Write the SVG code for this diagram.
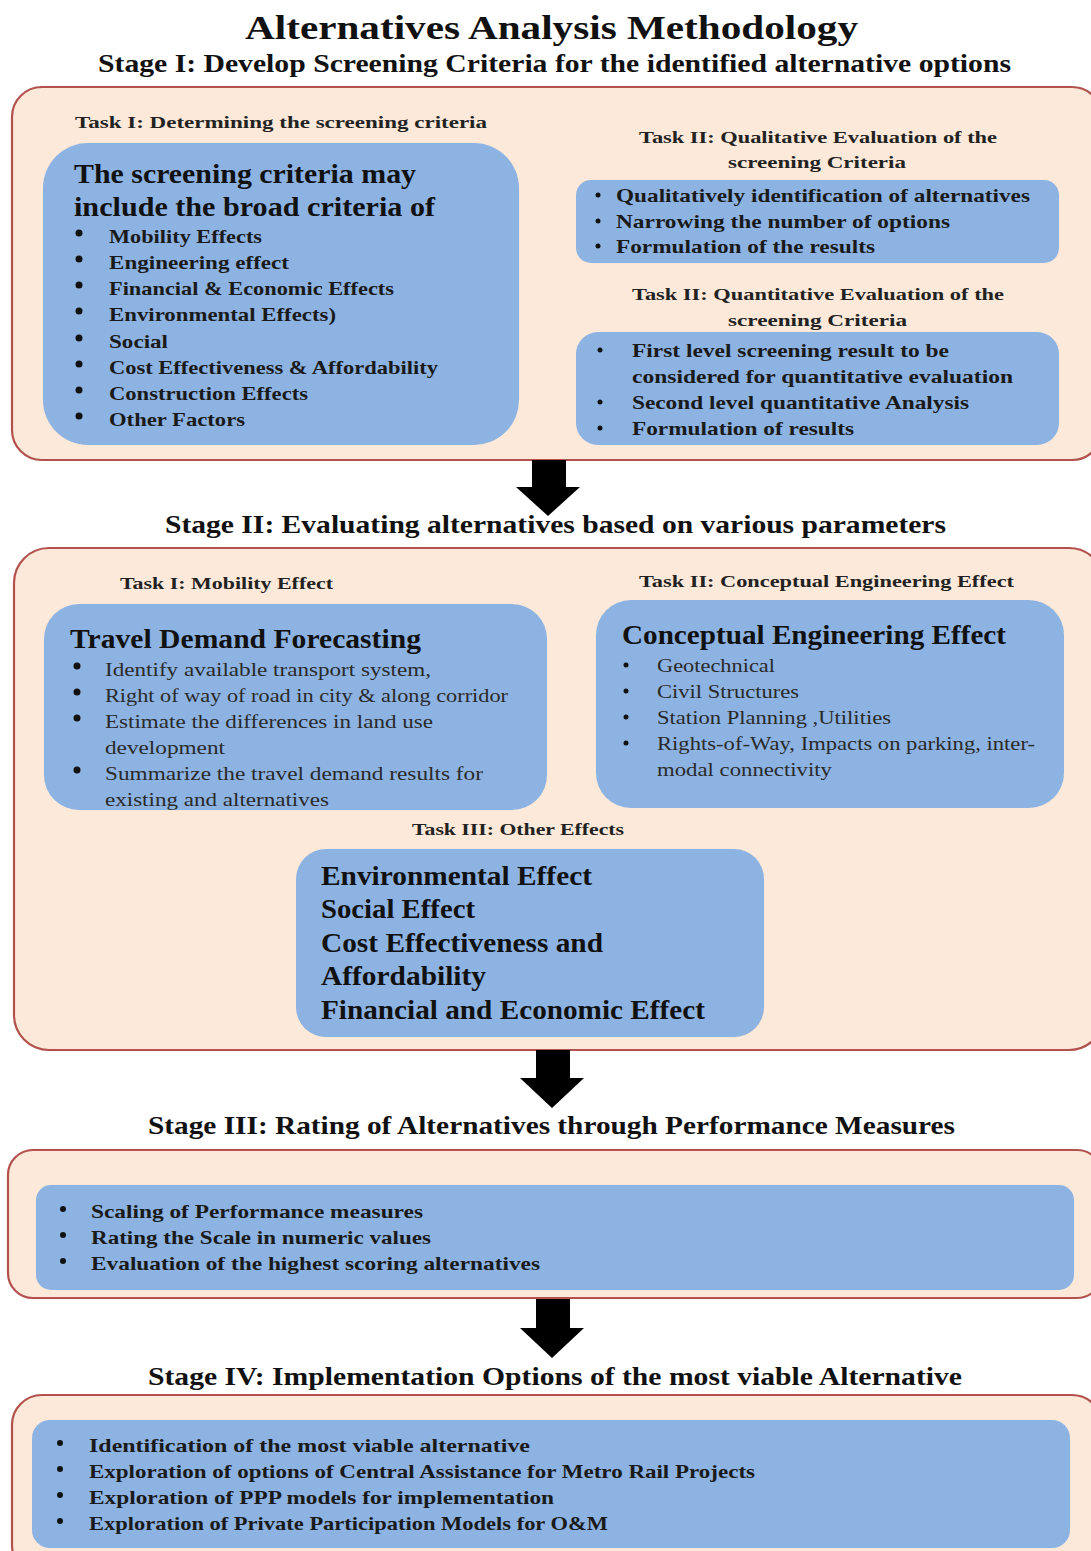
<svg xmlns="http://www.w3.org/2000/svg" width="1091" height="1551" viewBox="0 0 1091 1551">
<style>
.bg{fill:#ffffff}
.stage{fill:#FDE9D9;stroke:#B3514D;stroke-width:2.2}
.blue{fill:#8DB3E2}
text{font-family:"Liberation Serif","DejaVu Serif",serif;fill:#111;font-weight:bold}
.title{font-size:34px}
.sh{font-size:25px}
.task{font-size:17px;fill:#222}
.hd{font-size:27px}
.b{font-size:19px;fill:#1a1a1a}
.r{font-size:19px;font-weight:normal;fill:#2a2a2a}
.arrow{fill:#000}
.dot{fill:#111}
</style>
<rect class="bg" x="0" y="0" width="1091" height="1551"/>

<text class="title" x="245" y="39" textLength="613" lengthAdjust="spacingAndGlyphs">Alternatives Analysis Methodology</text>

<g id="stage1">
<text class="sh" x="98" y="72" textLength="913" lengthAdjust="spacingAndGlyphs">Stage I: Develop Screening Criteria for the identified alternative options</text>
<rect class="stage" x="12" y="87" width="1090" height="373" rx="30"/>
</g>

<g id="task1-criteria">
<text class="task" x="75" y="128" textLength="412" lengthAdjust="spacingAndGlyphs">Task I: Determining the screening criteria</text>
<rect class="blue" x="43" y="143" width="476" height="302" rx="45"/>
<text class="hd" x="74" y="183" textLength="342" lengthAdjust="spacingAndGlyphs">The screening criteria may</text>
<text class="hd" x="74" y="216" textLength="361" lengthAdjust="spacingAndGlyphs">include the broad criteria of</text>
<g class="dot">
<circle cx="79" cy="233" r="3.5"/><circle cx="79" cy="259" r="3.5"/><circle cx="79" cy="285" r="3.5"/><circle cx="79" cy="311" r="3.5"/>
<circle cx="79" cy="338" r="3.5"/><circle cx="79" cy="364" r="3.5"/><circle cx="79" cy="390" r="3.5"/><circle cx="79" cy="416" r="3.5"/>
</g>
<text class="b" x="109" y="243" textLength="153" lengthAdjust="spacingAndGlyphs">Mobility Effects</text>
<text class="b" x="109" y="269" textLength="180" lengthAdjust="spacingAndGlyphs">Engineering effect</text>
<text class="b" x="109" y="295" textLength="285" lengthAdjust="spacingAndGlyphs">Financial &amp; Economic Effects</text>
<text class="b" x="109" y="321" textLength="227" lengthAdjust="spacingAndGlyphs">Environmental Effects)</text>
<text class="b" x="109" y="348" textLength="59" lengthAdjust="spacingAndGlyphs">Social</text>
<text class="b" x="109" y="374" textLength="329" lengthAdjust="spacingAndGlyphs">Cost Effectiveness &amp; Affordability</text>
<text class="b" x="109" y="400" textLength="199" lengthAdjust="spacingAndGlyphs">Construction Effects</text>
<text class="b" x="109" y="426" textLength="136" lengthAdjust="spacingAndGlyphs">Other Factors</text>
</g>

<g id="task2-qualitative">
<text class="task" x="639" y="143" textLength="358" lengthAdjust="spacingAndGlyphs">Task II: Qualitative Evaluation of the</text>
<text class="task" x="728" y="168" textLength="178" lengthAdjust="spacingAndGlyphs">screening Criteria</text>
<rect class="blue" x="576" y="180" width="483" height="83" rx="15"/>
<g class="dot"><circle cx="598" cy="195" r="2.5"/><circle cx="598" cy="221" r="2.5"/><circle cx="598" cy="246" r="2.5"/></g>
<text class="b" x="616" y="202" textLength="414" lengthAdjust="spacingAndGlyphs">Qualitatively identification of alternatives</text>
<text class="b" x="616" y="228" textLength="334" lengthAdjust="spacingAndGlyphs">Narrowing the number of options</text>
<text class="b" x="616" y="253" textLength="259" lengthAdjust="spacingAndGlyphs">Formulation of the results</text>
</g>

<g id="task2-quantitative">
<text class="task" x="632" y="300" textLength="372" lengthAdjust="spacingAndGlyphs">Task II: Quantitative Evaluation of the</text>
<text class="task" x="728" y="326" textLength="179" lengthAdjust="spacingAndGlyphs">screening Criteria</text>
<rect class="blue" x="576" y="332" width="483" height="113" rx="22"/>
<g class="dot"><circle cx="600" cy="350" r="2.5"/><circle cx="600" cy="402" r="2.5"/><circle cx="600" cy="428" r="2.5"/></g>
<text class="b" x="632" y="357" textLength="317" lengthAdjust="spacingAndGlyphs">First level screening result to be</text>
<text class="b" x="632" y="383" textLength="381" lengthAdjust="spacingAndGlyphs">considered for quantitative evaluation</text>
<text class="b" x="632" y="409" textLength="337" lengthAdjust="spacingAndGlyphs">Second level quantitative Analysis</text>
<text class="b" x="632" y="435" textLength="222" lengthAdjust="spacingAndGlyphs">Formulation of results</text>
</g>

<g id="stage2">
<text class="sh" x="165" y="533" textLength="781" lengthAdjust="spacingAndGlyphs">Stage II: Evaluating alternatives based on various parameters</text>
<rect class="stage" x="14" y="548" width="1090" height="502" rx="35"/>
</g>

<g id="task1-mobility">
<text class="task" x="120" y="589" textLength="213" lengthAdjust="spacingAndGlyphs">Task I: Mobility Effect</text>
<rect class="blue" x="44" y="604" width="503" height="206" rx="35"/>
<text class="hd" x="70" y="648" textLength="351" lengthAdjust="spacingAndGlyphs">Travel Demand Forecasting</text>
<g class="dot"><circle cx="77" cy="666" r="3.5"/><circle cx="77" cy="692" r="3.5"/><circle cx="77" cy="718" r="3.5"/><circle cx="77" cy="770" r="3.5"/></g>
<text class="r" x="105" y="676" textLength="326" lengthAdjust="spacingAndGlyphs">Identify available transport system,</text>
<text class="r" x="105" y="702" textLength="403" lengthAdjust="spacingAndGlyphs">Right of way of road in city &amp; along corridor</text>
<text class="r" x="105" y="728" textLength="328" lengthAdjust="spacingAndGlyphs">Estimate the differences in land use</text>
<text class="r" x="105" y="754" textLength="120" lengthAdjust="spacingAndGlyphs">development</text>
<text class="r" x="105" y="780" textLength="378" lengthAdjust="spacingAndGlyphs">Summarize the travel demand results for</text>
<text class="r" x="105" y="806" textLength="224" lengthAdjust="spacingAndGlyphs">existing and alternatives</text>
</g>

<g id="task2-engineering">
<text class="task" x="639" y="587" textLength="375" lengthAdjust="spacingAndGlyphs">Task II: Conceptual Engineering Effect</text>
<rect class="blue" x="596" y="600" width="468" height="208" rx="35"/>
<text class="hd" x="622" y="644" textLength="384" lengthAdjust="spacingAndGlyphs">Conceptual Engineering Effect</text>
<g class="dot"><circle cx="626" cy="665" r="2.5"/><circle cx="626" cy="691" r="2.5"/><circle cx="626" cy="717" r="2.5"/><circle cx="626" cy="743" r="2.5"/></g>
<text class="r" x="657" y="672" textLength="118" lengthAdjust="spacingAndGlyphs">Geotechnical</text>
<text class="r" x="657" y="698" textLength="142" lengthAdjust="spacingAndGlyphs">Civil Structures</text>
<text class="r" x="657" y="724" textLength="234" lengthAdjust="spacingAndGlyphs">Station Planning ,Utilities</text>
<text class="r" x="657" y="750" textLength="378" lengthAdjust="spacingAndGlyphs">Rights-of-Way, Impacts on parking, inter-</text>
<text class="r" x="657" y="776" textLength="175" lengthAdjust="spacingAndGlyphs">modal connectivity</text>
</g>

<g id="task3-other">
<text class="task" x="412" y="835" textLength="212" lengthAdjust="spacingAndGlyphs">Task III: Other Effects</text>
<rect class="blue" x="296" y="849" width="468" height="188" rx="30"/>
<text class="hd" x="321" y="885" textLength="271" lengthAdjust="spacingAndGlyphs">Environmental Effect</text>
<text class="hd" x="321" y="918" textLength="154" lengthAdjust="spacingAndGlyphs">Social Effect</text>
<text class="hd" x="321" y="952" textLength="282" lengthAdjust="spacingAndGlyphs">Cost Effectiveness and</text>
<text class="hd" x="321" y="985" textLength="165" lengthAdjust="spacingAndGlyphs">Affordability</text>
<text class="hd" x="321" y="1019" textLength="384" lengthAdjust="spacingAndGlyphs">Financial and Economic Effect</text>
</g>

<g id="stage3">
<text class="sh" x="148" y="1134" textLength="807" lengthAdjust="spacingAndGlyphs">Stage III: Rating of Alternatives through Performance Measures</text>
<rect class="stage" x="8" y="1150" width="1094" height="148" rx="25"/>
<rect class="blue" x="36" y="1185" width="1038" height="105" rx="15"/>
<g class="dot"><circle cx="63" cy="1209" r="3"/><circle cx="63" cy="1235" r="3"/><circle cx="63" cy="1261" r="3"/></g>
<text class="b" x="91" y="1218" textLength="332" lengthAdjust="spacingAndGlyphs">Scaling of Performance measures</text>
<text class="b" x="91" y="1244" textLength="340" lengthAdjust="spacingAndGlyphs">Rating the Scale in numeric values</text>
<text class="b" x="91" y="1270" textLength="449" lengthAdjust="spacingAndGlyphs">Evaluation of the highest scoring alternatives</text>
</g>

<g id="stage4">
<text class="sh" x="148" y="1385" textLength="814" lengthAdjust="spacingAndGlyphs">Stage IV: Implementation Options of the most viable Alternative</text>
<rect class="stage" x="12" y="1395" width="1090" height="180" rx="30"/>
<rect class="blue" x="32" y="1420" width="1038" height="128" rx="18"/>
<g class="dot"><circle cx="60" cy="1443" r="3"/><circle cx="60" cy="1469" r="3"/><circle cx="60" cy="1495" r="3"/><circle cx="60" cy="1521" r="3"/></g>
<text class="b" x="89" y="1452" textLength="441" lengthAdjust="spacingAndGlyphs">Identification of  the most viable  alternative</text>
<text class="b" x="89" y="1478" textLength="666" lengthAdjust="spacingAndGlyphs">Exploration of options of Central Assistance for Metro Rail Projects</text>
<text class="b" x="89" y="1504" textLength="465" lengthAdjust="spacingAndGlyphs">Exploration of PPP models for implementation</text>
<text class="b" x="89" y="1530" textLength="519" lengthAdjust="spacingAndGlyphs">Exploration of Private Participation Models for O&amp;M</text>
</g>

<g id="connectors">
<polygon class="arrow" points="532,460 566,460 566,487 580,487 548,516 516,487 532,487"/>
<polygon class="arrow" points="536,1050 570,1050 570,1078 584,1078 552,1108 520,1078 536,1078"/>
<polygon class="arrow" points="536,1299 570,1299 570,1328 584,1328 552,1358 520,1328 536,1328"/>
</g>
</svg>
